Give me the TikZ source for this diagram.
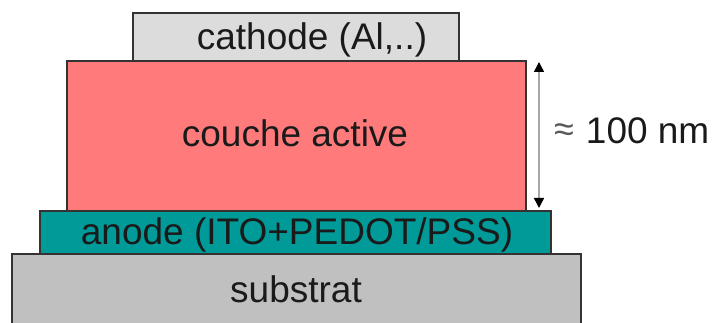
\documentclass[tikz,border=0pt]{standalone}
\usepackage{fontspec}
\setmainfont{Liberation Sans}
\usetikzlibrary{arrows.meta}
\definecolor{cathodegray}{HTML}{DCDCDC}
\definecolor{activered}{HTML}{FF7B7B}
\definecolor{anodeteal}{HTML}{009A98}
\definecolor{substrategray}{HTML}{C0C0C0}
\definecolor{edgegray}{HTML}{333333}
\definecolor{txt}{HTML}{1A1A1A}
\begin{document}
\begin{tikzpicture}[x=1pt,y=-1pt,
  layer/.style={draw=edgegray,line width=1.4pt,inner sep=0pt,outer sep=0pt},
  lbl/.style={anchor=base,inner sep=0pt,text=txt,font=\fontsize{37}{40}\selectfont}]
  \useasboundingbox (0,0) rectangle (718,323);
  \clip (0,0) rectangle (718,323);
  % layer stack, bottom to top
  \draw[layer,fill=substrategray] (12,254) rectangle (581,340);
  \node[lbl] (substrat) at (296,302) {substrat};
  \draw[layer,fill=anodeteal] (40,211) rectangle (551,254);
  \node[lbl] (anode) at (297,245) {anode (ITO+PEDOT/PSS)};
  \draw[layer,fill=activered] (67,61) rectangle (526,211);
  \node[lbl] (active) at (295,147) {couche active};
  \draw[layer,fill=cathodegray] (133,13) rectangle (459,61);
  \node[lbl] (cathode) at (312,50) {cathode (Al,..)};
  % thickness of the active layer
  \coordinate (top) at (539,62);
  \coordinate (bot) at (539,208);
  \draw[color=gray!70,line width=1.5pt,
        arrows={Triangle[width=10pt,length=10pt,color=black]-Triangle[width=10pt,length=10pt,color=black]}]
        (top) -- (bot);
  \node[lbl,anchor=base west] (thick) at (554,144)
        {\raisebox{2pt}{\fontsize{36}{36}\selectfont\color{gray!70!black}≈}\hspace{12pt}100 nm};
\end{tikzpicture}
\end{document}
